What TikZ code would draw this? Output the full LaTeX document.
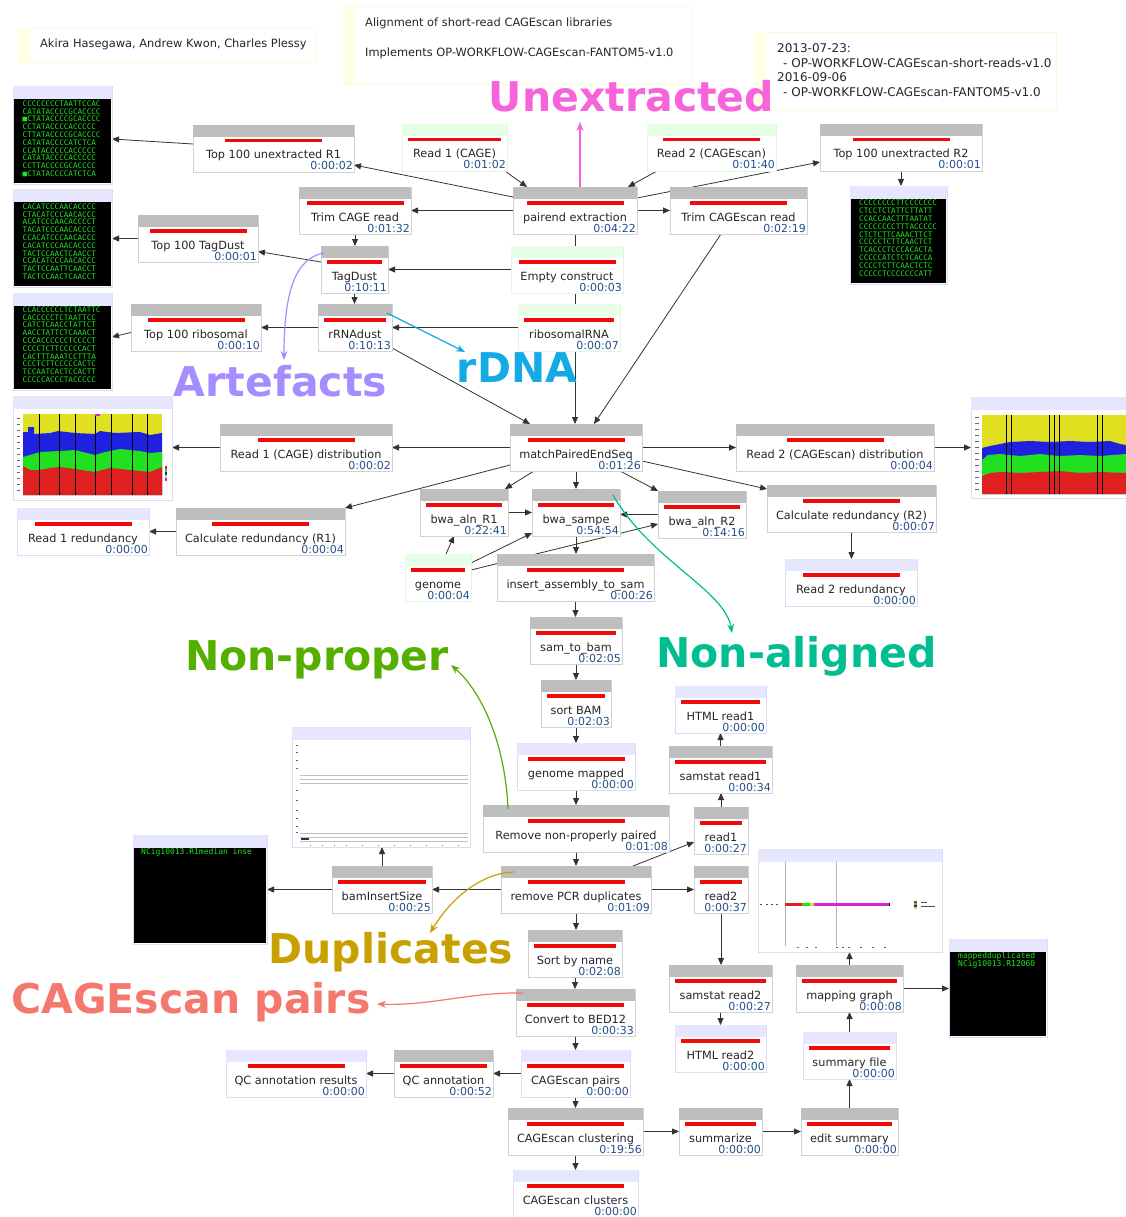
\documentclass[tikz,border=0pt]{standalone}
\usepackage{fontspec}
\setmainfont{DejaVu Sans}
\setmonofont{DejaVu Sans Mono}
\usetikzlibrary{arrows.meta,backgrounds}

\definecolor{procband}{HTML}{BEBEBE}
\definecolor{procline}{HTML}{D2D2D2}
\definecolor{inpband}{HTML}{E6FFE6}
\definecolor{inpline}{HTML}{E0F6E0}
\definecolor{outband}{HTML}{E6E6FF}
\definecolor{outline}{HTML}{DCDCF8}
\definecolor{timeblue}{HTML}{23508C}
\definecolor{runred}{HTML}{F00A0A}
\definecolor{notestrip}{HTML}{FFFFE4}
\definecolor{noteline}{HTML}{FAFADA}
\definecolor{seqgreen}{HTML}{1EE61E}
\definecolor{chartyellow}{HTML}{E0E020}
\definecolor{chartblue}{HTML}{2020E0}
\definecolor{chartgreen}{HTML}{20E020}
\definecolor{chartred}{HTML}{E02020}
\definecolor{chartmagenta}{HTML}{E020E0}
\definecolor{unextrpink}{HTML}{F763DB}
\definecolor{artepurple}{HTML}{A58CFF}
\definecolor{rdnacyan}{HTML}{14AAE6}
\definecolor{nonalteal}{HTML}{00BE91}
\definecolor{nonprgreen}{HTML}{55AF00}
\definecolor{dupgold}{HTML}{C8A000}
\definecolor{pairsalmon}{HTML}{F5786E}

%% one workflow component: name, kind, x1, y1, x2, label, run time
\newcommand{\wfbox}[7]{%
  \pgfmathsetmacro{\boxw}{#5-#3}%
  \pgfmathsetmacro{\barw}{min(97,\boxw-12)}%
  \colorlet{curband}{#2band}\colorlet{curline}{#2line}%
  \node[jobbox, draw=curline, minimum width=\boxw pt] (#1) at (#3,#4) {};
  \fill[curband] ([shift={(0.4pt,-0.4pt)}]#1.north west) rectangle ([shift={(-0.4pt,-12pt)}]#1.north east);
  \fill[runred] ([shift={(-\barw pt/2,-14pt)}]#1.north) rectangle ([shift={(\barw pt/2,-17.5pt)}]#1.north);
  \node[jobname] (#1-txt) at ([yshift=-34pt]#1.north) {#6};
  \node[jobtime] (#1-time) at ([shift={(-1pt,2pt)}]#1.south east) {#7};
}
%% one result thumbnail: name, x1, y1, x2, y2, body colour
\newcommand{\thumbbox}[6]{%
  \pgfmathsetmacro{\thw}{#4-#2}%
  \pgfmathsetmacro{\thh}{#5-#3}%
  \node[thumb, minimum width=\thw pt, minimum height=\thh pt] (#1) at (#2,#3) {};
  \fill[outband] ([shift={(0.4pt,-0.4pt)}]#1.north west) rectangle ([shift={(-0.4pt,-13pt)}]#1.north east);
  \fill[#6] ([shift={(1pt,-13pt)}]#1.north west) rectangle ([shift={(-1pt,1pt)}]#1.south east);
}

\begin{document}
\begin{tikzpicture}
[x=1pt,y=-1pt,
  jobbox/.style={anchor=north west,minimum height=47pt,inner sep=0pt,outer sep=0pt,fill=white,line width=0.8pt},%
  jobname/.style={anchor=base,inner sep=0pt,text=black!85,font=\fontsize{11.3}{13}\selectfont},%
  jobtime/.style={anchor=base east,inner sep=0pt,text=timeblue,font=\fontsize{11}{12}\selectfont},%
  thumb/.style={anchor=north west,inner sep=0pt,outer sep=0pt,draw=outline,fill=white,line width=0.8pt},%
  notebox/.style={anchor=north west,inner sep=0pt,draw=noteline,fill=white,line width=0.8pt},%
  notetext/.style={anchor=base west,inner sep=0pt,text=black!85,font=\fontsize{11.4}{13}\selectfont},%
  seqtext/.style={anchor=north west,inner sep=0pt,align=left,text=seqgreen,font=\fontsize{7.6}{7.8}\selectfont\ttfamily},%
  tagline/.style={anchor=base,inner sep=0pt,font=\fontsize{41}{41}\selectfont\bfseries},%
  flow/.style={draw=black!80,line width=0.8pt,-{Triangle[length=7pt,width=6pt]}},%
  hint/.style={line width=1.2pt,-{Stealth[length=9pt,width=7pt]}}]
\useasboundingbox (0,0) rectangle (1126,1217);

%% notes
\node[notebox,minimum width=298pt,minimum height=34pt] (authors) at (18,28) {};
\fill[notestrip] ([shift={(0.4pt,-0.4pt)}]authors.north west) rectangle ([shift={(12pt,0.4pt)}]authors.south west);
\node[notetext] (authorsTxt) at (40,48) {Akira Hasegawa, Andrew Kwon, Charles Plessy};
\node[notebox,minimum width=348pt,minimum height=78pt] (descr) at (343,6) {};
\fill[notestrip] ([shift={(0.4pt,-0.4pt)}]descr.north west) rectangle ([shift={(12pt,0.4pt)}]descr.south west);
\node[notetext] (descr1) at (365,27) {Alignment of short-read CAGEscan libraries};
\node[notetext] (descr2) at (365,57) {Implements OP-WORKFLOW-CAGEscan-FANTOM5-v1.0};
\node[notebox,minimum width=301pt,minimum height=78pt] (history) at (755,32) {};
\fill[notestrip] ([shift={(0.4pt,-0.4pt)}]history.north west) rectangle ([shift={(11pt,0.4pt)}]history.south west);
\foreach \ln/\xx/\yy/\txt in {1/777/53/2013-07-23:, 2/783/68/- OP-WORKFLOW-CAGEscan-short-reads-v1.0,
  3/777/82/2016-09-06, 4/783/97/- OP-WORKFLOW-CAGEscan-FANTOM5-v1.0}
{
  \node[notetext,font=\fontsize{12}{13}\selectfont] (history\ln) at (\xx,\yy) {\txt};
}

%% workflow components
\foreach \nodename/\kind/\xa/\ya/\xb/\jobtext/\jobtime in {
  unR1/proc/193/125/354/Top 100 unextracted R1/0:00:02,
  read1/inp/402/124/507/Read 1 (CAGE)/0:01:02,
  read2/inp/647/124/776/Read 2 (CAGEscan)/0:01:40,
  unR2/proc/820/124/982/Top 100 unextracted R2/0:00:01,
  trimCAGE/proc/299/187/411/Trim CAGE read/0:01:32,
  pairend/proc/513/187/637/pairend extraction/0:04:22,
  trimScan/proc/670/187/807/Trim CAGEscan read/0:02:19,
  tagTop/proc/138/215/258/Top 100 TagDust/0:00:01,
  tagDust/proc/321/246/388/TagDust/0:10:11,
  empty/inp/511/246/623/Empty construct/0:00:03,
  riboTop/proc/131/304/261/Top 100 ribosomal/0:00:10,
  rRNAdust/proc/318/304/392/rRNAdust/0:10:13,
  riboRNA/inp/518/304/620/ribosomalRNA/0:00:07,
  dist1/proc/220/424/392/Read 1 (CAGE) distribution/0:00:02,
  match/proc/510/424/642/matchPairedEndSeq/0:01:26,
  dist2/proc/736/424/934/Read 2 (CAGEscan) distribution/0:00:04,
  bwaR1/proc/420/489/508/bwa\_aln\_R1/0:22:41,
  sampe/proc/532/489/620/bwa\_sampe/0:54:54,
  bwaR2/proc/658/491/746/bwa\_aln\_R2/0:14:16,
  calcR2/proc/767/485/936/Calculate redundancy (R2)/0:00:07,
  calcR1/proc/176/508/345/Calculate redundancy (R1)/0:00:04,
  red1/out/17/508/149/Read 1 redundancy/0:00:00,
  genome/inp/405/554/471/genome/0:00:04,
  insert/proc/497/554/654/insert\_assembly\_to\_sam/0:00:26,
  red2/out/785/559/917/Read 2 redundancy/0:00:00,
  samBam/proc/530/617/622/sam\_to\_bam/0:02:05,
  sortBam/proc/541/680/611/sort BAM/0:02:03,
  htmlR1/out/675/686/766/HTML read1/0:00:00,
  gMapped/out/517/743/635/genome mapped/0:00:00,
  statR1/proc/669/746/772/samstat read1/0:00:34,
  nonProp/proc/483/805/669/Remove non-properly paired/0:01:08,
  read1n/proc/694/807/748/read1/0:00:27,
  pcrDup/proc/501/866/651/remove PCR duplicates/0:01:09,
  insSize/proc/332/866/432/bamInsertSize/0:00:25,
  read2n/proc/694/866/748/read2/0:00:37,
  byName/proc/528/930/622/Sort by name/0:02:08,
  statR2/proc/669/965/772/samstat read2/0:00:27,
  mapGraph/proc/796/965/903/mapping graph/0:00:08,
  bed12/proc/516/989/635/Convert to BED12/0:00:33,
  htmlR2/out/675/1025/766/HTML read2/0:00:00,
  sumFile/out/803/1032/896/summary file/0:00:00,
  qcRes/out/226/1050/366/QC annotation results/0:00:00,
  qcAnn/proc/394/1050/493/QC annotation/0:00:52,
  pairs/out/521/1050/630/CAGEscan pairs/0:00:00,
  cluster/proc/508/1108/643/CAGEscan clustering/0:19:56,
  summ/proc/679/1108/762/summarize/0:00:00,
  editSum/proc/801/1108/898/edit summary/0:00:00,
  clusters/out/513/1170/638/CAGEscan clusters/0:00:00}
{
  \wfbox{\nodename}{\kind}{\xa}{\ya}{\xb}{\jobtext}{\jobtime}
}

%% result thumbnails
\foreach \nodename/\xa/\ya/\xb/\yb/\body in {seq1/13/86/112/184/black, seq2/13/189/112/287/black,
  seq3/13/293/112/390/black, seq4/850/186/947/284/black, plot1/13/396/172/500/white,
  plot2/971/397/1128/498/white, insPlot/292/727/470/847/white, mapPlot/758/849/942/952/white,
  ncig/133/835/267/944/black, dupBox/949/939/1047/1037/black}
{
  \thumbbox{\nodename}{\xa}{\ya}{\xb}{\yb}{\body}
}
\node[seqtext] (seq1Txt) at (22.5,100.5) {CCCCCCCCTAATTCCAC\\CATATACCCCGCACCCC\\■CTATACCCCGCACCCC\\CCTATACCCCACCCCC\\CTTATACCCCGCACCCC\\CATATACCCCATCTCA\\CCATACCCCCACCCCC\\CATATACCCCACCCCC\\CCTTACCCCGCACCCC\\■CTATACCCCATCTCA};
\node[seqtext] (seq2Txt) at (22.5,203.5) {CACATCCCAACACCCC\\CTACATCCCAACACCC\\ACATCCCAACACCCCT\\TACATCCCAACACCCC\\CCACATCCCAACACCC\\CACATCCCAACACCCC\\TACTCCAACTCAACCT\\CCACATCCCAACACCC\\TACTCCAATTCAACCT\\TACTCCAACTCAACCT};
\node[seqtext] (seq3Txt) at (22.5,306.5) {CCACCCCCCTCTAATTC\\CACCCCCTCTAATTCC\\CATCTCAACCTATTCT\\AACCTATTCTCAAACT\\CCCACCCCCCTCCCCT\\CCCCTCTTCCCCCACT\\CACTTTAAATCCTTTA\\CCCTCTTCCCCCACTC\\TCCAATCACTCCACTT\\CCCCCACCCTACCCCC};
\node[seqtext] (seq4Txt) at (859,200) {CCCCCCCCTTCCCCCCC\\CTCCTCTATTCTTATT\\CCACCAACTTTAATAT\\CCCCCCCCTTTACCCCC\\CTCTCTTCAAACTTCT\\CCCCCTCTTCAACTCT\\TCACCCTCCCACACTA\\CCCCCATCTCTCACCA\\CCCCTCTTCAACTCTC\\CCCCCTCCCCCCCATT};
\node[seqtext,font=\fontsize{8}{8}\selectfont\ttfamily] (ncigTxt) at (141,848) {NCig10013.R1median inse};
\node[seqtext,font=\fontsize{8}{8}\selectfont\ttfamily] (dupTxt) at (958,952) {mappedduplicated\\NCig10013.R12060};

%% nucleotide composition, read 1
\fill[chartyellow] (23,414) rectangle (162,495);
\fill[chartblue] (23,495) -- (23,432) -- (28,432) -- (28,427) -- (34,427) -- (34,434) -- (50,433) -- (58,431) -- (75,433) -- (95,434) -- (100,431) -- (115,433) -- (140,432) -- (150,435) -- (162,433) -- (162,495) -- cycle;
\fill[chartgreen] (23,495) -- (23,457) -- (30,455) -- (40,452) -- (60,451) -- (75,450) -- (95,455) -- (105,452) -- (120,449) -- (140,451) -- (150,453) -- (162,452) -- (162,495) -- cycle;
\fill[chartred] (23,495) -- (23,466) -- (30,470) -- (40,470) -- (50,468) -- (60,467) -- (75,469) -- (95,472) -- (110,468) -- (130,470) -- (150,472) -- (162,467) -- (162,495) -- cycle;
\foreach \xx in {39,59,75,95,111,132,147} \draw[black,line width=0.8pt] (\xx,414) -- (\xx,495);
\fill[chartmagenta] (95,414) rectangle (100,416);
\foreach \yy in {418,424,430,436,442,448,454,460,466,472,478,484,490} \fill[black!60] (17,\yy) rectangle (20,\yy+0.8);
\fill[chartred] (165,466) rectangle (167,469); \fill[chartgreen] (165,469) rectangle (167,472);
\fill[chartblue] (165,472) rectangle (167,475); \fill[chartyellow] (165,475) rectangle (167,478);
\fill[chartmagenta] (165,478) rectangle (167,481);
%% nucleotide composition, read 2
\fill[chartyellow] (982,415) rectangle (1126,494);
\fill[chartblue] (982,494) -- (982,448) -- (990,446) -- (1000,444) -- (1010,442) -- (1030,441) -- (1050,442) -- (1070,441) -- (1090,442) -- (1110,441) -- (1120,444) -- (1126,445) -- (1126,494) -- cycle;
\fill[chartgreen] (982,494) -- (982,460) -- (988,455) -- (1000,454) -- (1020,456) -- (1040,454) -- (1060,456) -- (1080,455) -- (1100,456) -- (1126,454) -- (1126,494) -- cycle;
\fill[chartred] (982,494) -- (982,476) -- (990,473) -- (1000,472) -- (1020,473) -- (1040,472) -- (1060,471) -- (1080,473) -- (1100,472) -- (1126,473) -- (1126,494) -- cycle;
\foreach \xx in {1006,1011,1049,1054,1059,1097,1102} \draw[black,line width=0.8pt] (\xx,415) -- (\xx,494);
\foreach \yy in {417,423,429,435,441,447,453,459,465,471,477,483,489} \fill[black!60] (975,\yy) rectangle (979,\yy+0.8);
%% insert size plot
\foreach \yy in {775,779,783,833,837,841} \draw[black!25,line width=0.8pt] (300,\yy) -- (468,\yy);
\foreach \yy in {745,752,760,768,790,800,810,818,826,832} \fill[black!60] (296,\yy) rectangle (298,\yy+0.8);
\foreach \xx in {310,322,334,346,362,378,394,410,426,442,458} \fill[black!60] (\xx,845) rectangle (\xx+1,846);
\fill[black!80] (301,838) rectangle (309,840);
%% mapping graph plot
\draw[black!30,line width=0.8pt] (785,862) -- (785,946);
\draw[black!30,line width=0.8pt] (836,862) -- (836,946);
\fill[chartred] (785,902.5) rectangle (802,905.5);
\fill[chartgreen] (802,902.5) rectangle (810,905.5);
\fill[chartyellow] (810,902.5) rectangle (814,905.5);
\fill[chartmagenta] (814,902.5) rectangle (889,905.5);
\fill[black] (889,902.5) rectangle (890,905.5);
\foreach \xx in {760,766,771,776} \fill[black!70] (\xx,904) rectangle (\xx+1.5,905);
\fill[chartred] (914,901) rectangle (917,903); \fill[chartgreen] (914,903) rectangle (917,905);
\fill[chartblue] (914,905) rectangle (917,907); \fill[chartyellow] (914,907) rectangle (917,909);
\draw[black!70,line width=0.6pt] (921,902) -- (927,902) (921,906) -- (935,906);
\foreach \xx in {797,806,815,836,842,848,860,872,884} \fill[black!60] (\xx,947) rectangle (\xx+2,948);

%% edges or lines
\begin{scope}[on background layer]
\fill[white] (0,0) rectangle (1126,1217);
\foreach \startnode/\endnode in {pairend.west/trimCAGE.east, pairend.east/trimScan.west,
  empty.west/tagDust.east, riboRNA.west/rRNAdust.east, rRNAdust.west/riboTop.east,
  match.west/dist1.east, match.east/dist2.west, bwaR1.east/sampe.west,
  pcrDup.west/insSize.east, pcrDup.east/read2n.west, pairs.west/qcAnn.east,
  qcAnn.west/qcRes.east, cluster.east/summ.west, summ.east/editSum.west}
{
  \draw[flow] (\startnode) -- (\endnode);
}
\foreach \startnode/\endnode in {pairend.south/match.north, match.south/sampe.north,
  sampe.south/insert.north, insert.south/samBam.north, samBam.south/sortBam.north,
  sortBam.south/gMapped.north, gMapped.south/nonProp.north, nonProp.south/pcrDup.north,
  pcrDup.south/byName.north, byName.south/bed12.north, bed12.south/pairs.north,
  pairs.south/cluster.north, cluster.south/clusters.north,
  unR2.south/seq4.north, trimCAGE.south/tagDust.north,
  tagDust.south/rRNAdust.north, calcR2.south/red2.north, insSize.north/insPlot.south,
  read1n.north/statR1.south, statR1.north/htmlR1.south, read2n.south/statR2.north,
  statR2.south/htmlR2.north, editSum.north/sumFile.south, sumFile.north/mapGraph.south,
  mapGraph.north/mapPlot.south}
{
  \draw[flow] (\startnode) -- (\startnode |- \endnode);
}
\foreach \startnode/\endnode in {tagTop.west/seq2.east, dist1.west/plot1.east,
  dist2.east/plot2.west, calcR1.west/red1.east, bwaR2.west/sampe.east,
  insSize.west/ncig.east, mapGraph.east/dupBox.west}
{
  \draw[flow] (\startnode) -- (\startnode -| \endnode);
}
\draw[flow] ([yshift=-10pt]pairend.north west) -- ([yshift=7pt]unR1.south east);
\draw[flow] ([xshift=-2pt]read1.south east) -- ([xshift=14pt]pairend.north west);
\draw[flow] ([xshift=10pt]read2.south west) -- ([xshift=-9pt]pairend.north east);
\draw[flow] ([yshift=-11pt]pairend.north east) -- ([yshift=9pt]unR2.south west);
\draw[flow] ([yshift=4.5pt]unR1.west) -- ([yshift=-4pt]seq1.east);
\draw[flow] ([yshift=7.5pt]tagDust.west) -- ([yshift=-13pt]tagTop.east);
\draw[flow] ([yshift=-5pt]riboTop.west) -- ([yshift=4.5pt]seq3.east);
\draw[flow] ([yshift=3pt]rRNAdust.south east) -- ([xshift=20pt]match.north west);
\draw[flow] ([xshift=-17.5pt]trimScan.south) -- ([xshift=18pt]match.north);
\draw[flow] ([yshift=6pt]match.south west) -- (calcR1.north east);
\draw[flow] ([xshift=-42pt]match.south) -- ([xshift=-3pt]bwaR1.north east);
\draw[flow] ([xshift=44pt]match.south) -- (bwaR2.north west);
\draw[flow] ([yshift=-13.5pt]match.east) -- ([yshift=-4pt]calcR2.north west);
\draw[flow] ([xshift=8pt]genome.north) -- ([xshift=-10pt]bwaR1.south);
\draw[flow] ([yshift=14.5pt]genome.east) -- ([yshift=3pt]sampe.south west);
\draw[flow] ([yshift=7.5pt]genome.east) -- ([yshift=-9.5pt]bwaR2.west);
\draw[flow] ([xshift=57pt]pcrDup.north) -- ([yshift=-11.5pt]read1n.west);
\end{scope}

%% annotations
\node[tagline,text=unextrpink] (unextr) at (631.5,112) {Unextracted};
\node[tagline,text=artepurple] (arte) at (280.5,396) {Artefacts};
\node[tagline,text=rdnacyan] (rdna) at (517,382) {rDNA};
\node[tagline,text=nonprgreen] (nonpr) at (317,670) {Non-proper};
\node[tagline,text=nonalteal] (nonal) at (796.5,667) {Non-aligned};
\node[tagline,text=dupgold] (dup) at (391,963) {Duplicates};
\node[tagline,text=pairsalmon] (pairsTag) at (191,1013) {CAGEscan pairs};
\coordinate (unextrTip) at (580,122);
\coordinate (arteTip) at (284,360);
\coordinate (rdnaTip) at (465,352);
\coordinate (nonalTip) at (732,633);
\coordinate (nonprTip) at (451,665);
\coordinate (dupTip) at (430,933);
\coordinate (pairsTip) at (377,1004);
\draw[hint,unextrpink] ([xshift=5pt]pairend.north) -- (unextrTip);
\draw[hint,artepurple] ([shift={(3pt,-7pt)}]tagDust.north west) .. controls (296,258) and (284,290) .. (arteTip);
\draw[hint,rdnacyan] ([shift={(-5pt,-9pt)}]rRNAdust.north east) -- (rdnaTip);
\draw[hint,nonalteal] ([shift={(-7pt,-6pt)}]sampe.north east) .. controls (650,560) and (725,590) .. (nonalTip);
\draw[hint,nonprgreen] ([shift={(25pt,-4pt)}]nonProp.north west) .. controls (505,740) and (480,690) .. (nonprTip);
\draw[hint,dupgold] ([shift={(13pt,-6pt)}]pcrDup.north west) .. controls (480,873) and (450,900) .. (dupTip);
\draw[hint,pairsalmon] ([shift={(7pt,-4pt)}]bed12.north west) .. controls (470,992) and (430,1006) .. (pairsTip);
\end{tikzpicture}
\end{document}
